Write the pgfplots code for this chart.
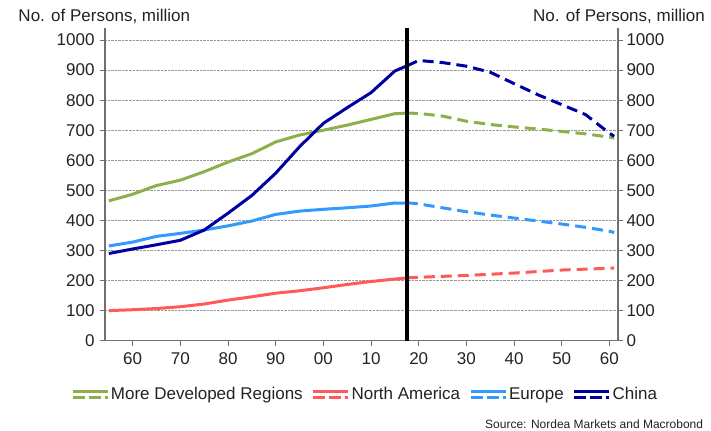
\documentclass[border=0pt]{standalone}
\usepackage{pgfplots}
\pgfplotsset{compat=1.18}
\usepackage{fontspec}
\setmainfont{Liberation Sans}
\definecolor{cGreen}{HTML}{8DB04A}
\definecolor{cRed}{HTML}{FF5A5A}
\definecolor{cLight}{HTML}{3399FF}
\definecolor{cDark}{HTML}{0000A0}
\definecolor{cText}{HTML}{222222}
\definecolor{cAxis}{HTML}{707070}
\begin{document}
\begin{tikzpicture}
\useasboundingbox (-105bp,-90.3bp) rectangle (606bp,340.7bp);
\pgfplotsset{
  base/.style={
    scale only axis, width=513bp, height=312.7bp,
    at={(0,0)}, anchor=south west,
    xmin=1954.2, xmax=2061.8, ymin=0, ymax=1040,
    ytick={0,100,...,1000},
    /pgf/number format/assume math mode=true,
    /pgf/number format/1000 sep={},
    tick label style={font=\fontsize{17bp}{20bp}\selectfont, text=cText},
    axis line style={cAxis, line width=1.3bp, -},
    tick style={cAxis, line width=1bp},
    major tick length=5bp,
    tick align=outside,
    scaled ticks=false,
  }
}
\begin{axis}[base,
  axis x line*=bottom, axis y line*=left,
  xtick={1960,1970,...,2060},
  xticklabels={60,70,80,90,00,10,20,30,40,50,60},
  ymajorgrids,
  major grid style={gray!80, densely dotted, line width=0.7bp},
  yticklabel style={xshift=-2bp},
  xticklabel style={yshift=-3bp},
  legend columns=4,
  legend style={draw=none, fill=none, at={(0.507,-0.172)}, anchor=center,
    font=\fontsize{17bp}{20bp}\selectfont, text=cText,
    nodes={inner xsep=2bp, inner ysep=1bp},
    /tikz/every even column/.append style={column sep=7bp}},
  legend image code/.code={
    \draw[solid, line width=2.8bp] (0bp,2.9bp) -- (35bp,2.9bp);
    \draw[dash pattern=on 12bp off 4bp, line width=2.8bp] (0bp,-2.9bp) -- (35bp,-2.9bp);
  },
  every axis plot/.append style={line width=3bp, line join=round},
]
% More Developed Regions
\addplot[cGreen] coordinates {(1955,465) (1960,487) (1965,516) (1970,534) (1975,562) (1980,594) (1985,622) (1990,661) (1995,684) (2000,700) (2005,717) (2010,736) (2015,755) (2017.5,757)};
\addlegendentry{More Developed Regions}
% North America
\addplot[cRed] coordinates {(1955,100) (1960,103) (1965,107) (1970,113) (1975,122) (1980,135) (1985,146) (1990,158) (1995,166) (2000,176) (2005,187) (2010,197) (2015,205) (2017.5,209)};
\addlegendentry{North America}
% Europe
\addplot[cLight] coordinates {(1955,315) (1960,328) (1965,347) (1970,357) (1975,368) (1980,382) (1985,398) (1990,420) (1995,431) (2000,437) (2005,442) (2010,448) (2015,458) (2017.5,457)};
\addlegendentry{Europe}
% China
\addplot[cDark] coordinates {(1955,290) (1960,305) (1965,319) (1970,334) (1975,368) (1980,424) (1985,483) (1990,557) (1995,645) (2000,723) (2005,775) (2010,825) (2015,897) (2017.5,914)};
\addlegendentry{China}
% projections
\addplot[cGreen, dash pattern=on 11bp off 6bp, forget plot] coordinates {(2017.5,757) (2020,756) (2025,747) (2030,730) (2035,719) (2040,711) (2045,704) (2050,696) (2055,688) (2060,677) (2061,674)};
\addplot[cRed, dash pattern=on 11bp off 6bp, forget plot] coordinates {(2017.5,209) (2020,211) (2030,217) (2040,225) (2050,235) (2060,241) (2061,242)};
\addplot[cLight, dash pattern=on 11bp off 6bp, forget plot] coordinates {(2017.5,459) (2020,455) (2025,442) (2030,429) (2035,418) (2040,408) (2045,398) (2050,388) (2055,377) (2060,364) (2061,360)};
\addplot[cDark, dash pattern=on 11bp off 6bp, forget plot] coordinates {(2017.5,914) (2020,932) (2025,925) (2030,913) (2035,893) (2040,855) (2045,818) (2050,785) (2055,752) (2060,690) (2061,680)};
% divider
\addplot[black, line width=4bp, forget plot] coordinates {(2017.5,0) (2017.5,1040)};
\end{axis}
\begin{axis}[base,
  axis x line=none, axis y line*=right,
  yticklabel style={xshift=0bp},
]
\end{axis}
\node[anchor=base west, inner sep=0, text=cText, font=\fontsize{17bp}{20bp}\selectfont] at (-86.7bp,319.2bp) {No. of Persons, million};
\node[anchor=base east, inner sep=0, text=cText, font=\fontsize{17bp}{20bp}\selectfont] at (600bp,319.2bp) {No. of Persons, million};
\node[anchor=base east, inner sep=0, text=cText, font=\fontsize{12bp}{14bp}\selectfont] at (598.3bp,-87.3bp) {Source: Nordea Markets and Macrobond};
\end{tikzpicture}
\end{document}
